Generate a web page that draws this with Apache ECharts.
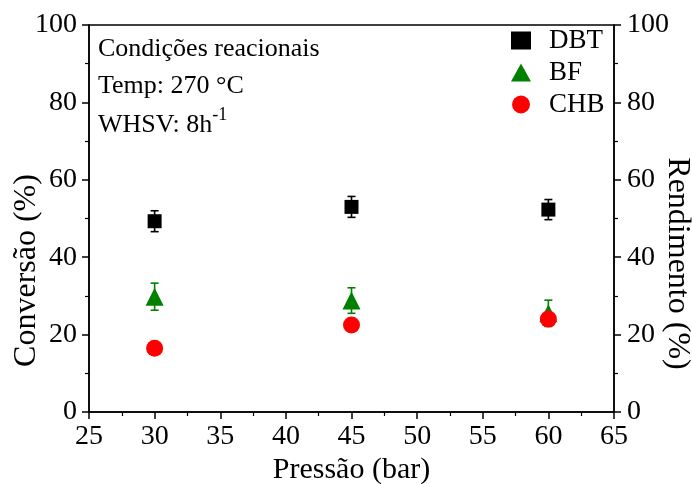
<!DOCTYPE html>
<html>
<head>
<meta charset="utf-8">
<script src="https://cdn.jsdelivr.net/npm/echarts@6/dist/echarts.min.js"></script>
<style>html,body{margin:0;padding:0;background:#fff}#c{width:692px;height:484px}</style>
</head>
<body>
<div id="c"></div>
<script>
const pressures = [30, 45, 60];
const dbtValues = [49.3, 53.0, 52.3];
const dbtErrors = [2.7, 2.7, 2.6];
const bfValues = [29.8, 28.8, 25.5];
const bfErrors = [3.5, 3.3, 3.4];
const chbValues = [16.5, 22.5, 24.0];
const yTicks = [0, 20, 40, 60, 80, 100];
const xTicks = [25, 30, 35, 40, 45, 50, 55, 60, 65];

const FONT = 'Liberation Serif';
const chart = echarts.init(document.getElementById('c'), null, {renderer: 'canvas'});

function pts(vals) { return pressures.map((p, i) => [p, vals[i]]); }
function errs(vals, e) { return pressures.map((p, i) => [p, vals[i] - e[i], vals[i] + e[i]]); }

function errRender(color) {
  return function (params, api) {
    const x = api.value(0), lo = api.value(1), hi = api.value(2);
    const a = api.coord([x, hi]), b = api.coord([x, lo]);
    const w = 4;
    const st = {stroke: color, lineWidth: 1.6};
    return {type: 'group', children: [
      {type: 'line', shape: {x1: a[0], y1: a[1], x2: b[0], y2: b[1]}, style: st},
      {type: 'line', shape: {x1: a[0]-w, y1: a[1], x2: a[0]+w, y2: a[1]}, style: st},
      {type: 'line', shape: {x1: b[0]-w, y1: b[1], x2: b[0]+w, y2: b[1]}, style: st}
    ]};
  };
}

const axisLine = {show: true, lineStyle: {color: '#000', width: 1.5}};
const tickLabel = {fontFamily: FONT, fontSize: 28, color: '#000'};

const yAxisCommon = {
  type: 'value', min: 0, max: 100, interval: 20,
  axisLine: axisLine,
  axisTick: {show: true, inside: false, length: 7, lineStyle: {color: '#000', width: 1.5}},
  minorTick: {show: true, splitNumber: 2, length: 4, lineStyle: {color: '#000', width: 1.2}},
  splitLine: {show: false},
  nameLocation: 'middle',
  nameMoveOverlap: false
};

const option = {
  backgroundColor: '#fff',
  animation: false,
  grid: {left: 89, right: 78, top: 25, bottom: 72, show: true, borderColor: '#000', borderWidth: 1.5,
    outerBoundsMode: 'none', containLabel: false},
  xAxis: [{
    type: 'value', min: 25, max: 65, interval: 5,
    axisLine: axisLine,
    axisTick: {show: true, length: 7, lineStyle: {color: '#000', width: 1.5}},
    minorTick: {show: true, splitNumber: 2, length: 4, lineStyle: {color: '#000', width: 1.2}},
    splitLine: {show: false},
    axisLabel: Object.assign({margin: 11}, tickLabel),
    name: 'Pressão (bar)', nameLocation: 'middle', nameGap: 43, nameMoveOverlap: false,
    nameTextStyle: {fontFamily: FONT, fontSize: 30, color: '#000'}
  }],
  yAxis: [
    Object.assign({}, yAxisCommon, {position: 'left', name: 'Conversão (%)', nameGap: 46, nameRotate: 90,
      nameTextStyle: {fontFamily: FONT, fontSize: 32, color: '#000', padding: [0, 104, 0, 0]},
      axisLabel: Object.assign({margin: 12}, tickLabel)}),
    Object.assign({}, yAxisCommon, {position: 'right', name: 'Rendimento (%)', nameGap: 47, nameRotate: -90,
      nameTextStyle: {fontFamily: FONT, fontSize: 32, color: '#000', padding: [0, 0, 0, 90]},
      axisLabel: Object.assign({margin: 13}, tickLabel)})
  ],
  legend: {
    orient: 'vertical', left: 506, top: 22, itemGap: 5,
    itemWidth: 20, itemHeight: 18,
    textStyle: {fontFamily: FONT, fontSize: 27, color: '#000', padding: [0, 0, 0, 13]},
    data: ['DBT', 'BF', 'CHB']
  },
  graphic: [
    {type: 'text', left: 98, top: 36, style: {text: 'Condições reacionais', font: '26px "Liberation Serif"', fill: '#000'}},
    {type: 'text', left: 98, top: 73, style: {text: 'Temp: 270 °C', font: '26px "Liberation Serif"', fill: '#000'}},
    {type: 'text', left: 98, top: 106, style: {
      text: '{n|WHSV: 8h}{s|-1}', fill: '#000',
      rich: {n: {fontFamily: FONT, fontSize: 26, verticalAlign: 'bottom'}, s: {fontFamily: FONT, fontSize: 18, verticalAlign: 'top', padding: [0, 0, 14, 0]}}
    }}
  ],
  series: [
    {type: 'custom', name: 'errDBT', data: errs(dbtValues, dbtErrors), renderItem: errRender('#000'), z: 1, silent: true},
    {type: 'custom', name: 'errBF', data: errs(bfValues, bfErrors), renderItem: errRender('#008000'), z: 1, silent: true},
    {type: 'scatter', name: 'DBT', data: pts(dbtValues), symbol: 'rect', symbolSize: 14, itemStyle: {color: '#000', opacity: 1}, z: 3},
    {type: 'scatter', name: 'BF', data: pts(bfValues), symbol: 'triangle', symbolSize: 18, itemStyle: {color: '#008000', opacity: 1}, z: 4},
    {type: 'scatter', name: 'CHB', data: pts(chbValues), symbol: 'circle', symbolSize: 17, itemStyle: {color: '#ff0000', opacity: 1}, z: 5}
  ]
};
chart.setOption(option);
</script>
</body>
</html>
